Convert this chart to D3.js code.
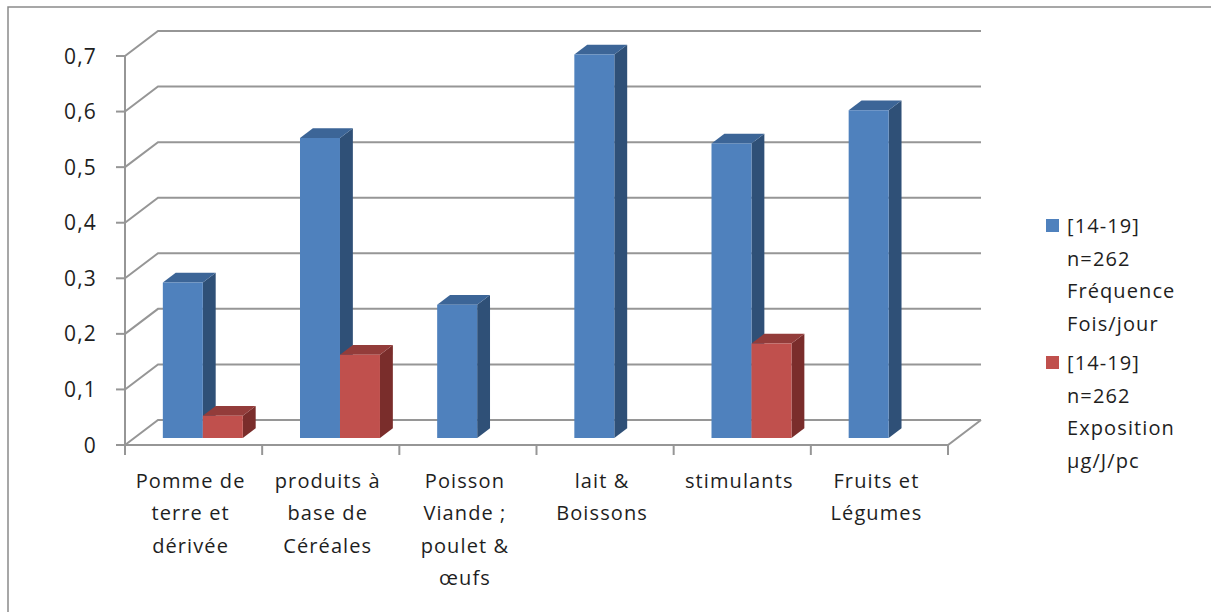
<!DOCTYPE html>
<html>
<head>
<meta charset="utf-8">
<script src="https://cdn.jsdelivr.net/npm/d3@7"></script>
<style>
  html, body { margin: 0; padding: 0; background: #fff; }
  svg { display: block; }
  text { font-family: "Open Sans", "Noto Sans", sans-serif; fill: #1e1e1e; }
</style>
</head>
<body>
<svg id="chart" width="1211" height="612"></svg>
<script>
// Food groups on the category axis
const categories = ["Pomme de terre et dérivée", "produits à base de Céréales",
  "Poisson Viande ; poulet & œufs", "lait & Boissons", "stimulants", "Fruits et Légumes"];
const categoryLines = [
  ["Pomme de", "terre et", "dérivée"],
  ["produits à", "base de", "Céréales"],
  ["Poisson", "Viande ;", "poulet &", "œufs"],
  ["lait &", "Boissons"],
  ["stimulants"],
  ["Fruits et", "Légumes"]
];
// Series values
const frequence = [0.28, 0.54, 0.24, 0.69, 0.53, 0.59];
const exposition = [0.04, 0.15, null, null, 0.17, null];
// Value axis
const yTicks = [0, 0.1, 0.2, 0.3, 0.4, 0.5, 0.6, 0.7];
const yTickLabels = ["0", "0,1", "0,2", "0,3", "0,4", "0,5", "0,6", "0,7"];
// Legend entries
const seriesNames = ["freq", "expo"];
const legendLines = [
  ["[14-19]", "n=262", "Fréquence", "Fois/jour"],
  ["[14-19]", "n=262", "Exposition", "µg/J/pc"]
];

const colors = {
  freq: { front: "#4f81bd", top: "#3c6597", side: "#2f5077" },
  expo: { front: "#c0504d", top: "#933c3a", side: "#7a2d2b" }
};

const svg = d3.select("#chart");

// outer frame
svg.append("path")
  .attr("d", "M8,612 L8,7 L1211,7")
  .attr("fill", "none").attr("stroke", "#8a8a8a").attr("stroke-width", 1.5);

// 3D box geometry
const X0 = 125, X1 = 948;
const DX = 33, DY = -25;          // depth vector of the floor
const F0 = 0.28, F1 = 0.67;       // depth slice occupied by the columns

const x = d3.scaleBand().domain(categories).range([X0, X1]);
const xSub = d3.scaleBand().domain(seriesNames).range([0, x.bandwidth()]).paddingOuter(0.715);
const y = d3.scaleLinear().domain([0, 0.7]).range([445, 56]);

const P = (px, py, f) => [px + f * DX, py + f * DY];
const grid = svg.append("g").attr("fill", "none").attr("stroke", "#969696").attr("stroke-width", 2);

// side wall diagonals + back wall gridlines
yTicks.forEach(v => {
  const a = [X0, y(v)], b = P(X0, y(v), 1), c = P(X1, y(v), 1);
  grid.append("path").attr("d", d3.line()([a, b, c]));
});
// floor front edge and right edge
grid.append("path").attr("d", d3.line()([[X0, y(0)], [X1, y(0)], P(X1, y(0), 1)]));
// value axis line
grid.append("path").attr("d", d3.line()([[X0, y(0.7)], [X0, y(0)]]));
// value axis tick marks
yTicks.forEach(v => grid.append("path").attr("d", d3.line()([[X0 - 9, y(v)], [X0, y(v)]])));
// category axis tick marks
d3.range(categories.length + 1).forEach(i => {
  const xx = X0 + i * x.step();
  grid.append("path").attr("d", d3.line()([[xx, y(0)], [xx, y(0) + 10]]));
});

// value axis labels
svg.append("g").selectAll("text").data(yTicks).join("text")
  .attr("x", 97).attr("y", d => y(d)).attr("dy", "0.36em")
  .attr("text-anchor", "end").attr("font-size", 21).attr("letter-spacing", 1.2)
  .text((d, i) => yTickLabels[i]);

// category labels
const catG = svg.append("g");
categories.forEach((c, i) => {
  const t = catG.append("text").attr("text-anchor", "middle")
    .attr("font-size", 20).attr("letter-spacing", 1.1);
  categoryLines[i].forEach((ln, j) => {
    t.append("tspan").attr("x", x(c) + x.bandwidth() / 2 - 3)
      .attr("y", 488 + j * 32.3).text(ln);
  });
});

// columns
const bars = svg.append("g");
const seriesData = { freq: frequence, expo: exposition };
categories.forEach((c, i) => {
  seriesNames.forEach(s => {
    const v = seriesData[s][i];
    if (v == null) return;
    const x0 = x(c) + xSub(s), x1 = x0 + xSub.bandwidth();
    const yb = y(0), yt = y(v);
    const poly = pts => "M" + pts.map(p => p.join(",")).join("L") + "Z";
    bars.append("path").attr("fill", colors[s].side)
      .attr("d", poly([P(x1, yb, F0), P(x1, yb, F1), P(x1, yt, F1), P(x1, yt, F0)]));
    bars.append("path").attr("fill", colors[s].top)
      .attr("d", poly([P(x0, yt, F0), P(x1, yt, F0), P(x1, yt, F1), P(x0, yt, F1)]));
    bars.append("path").attr("fill", colors[s].front)
      .attr("d", poly([P(x0, yb, F0), P(x1, yb, F0), P(x1, yt, F0), P(x0, yt, F0)]));
  });
});

// legend
const leg = svg.append("g");
const legendTop = [226, 363];
seriesNames.forEach((s, k) => {
  leg.append("rect").attr("x", 1046).attr("y", legendTop[k] - 7)
    .attr("width", 13).attr("height", 13).attr("fill", colors[s].front);
  legendLines[k].forEach((ln, j) => {
    leg.append("text").attr("x", 1067).attr("y", legendTop[k] + j * 32.5)
      .attr("dy", "0.36em").attr("font-size", 20).attr("letter-spacing", 1.1).text(ln);
  });
});
</script>
</body>
</html>
